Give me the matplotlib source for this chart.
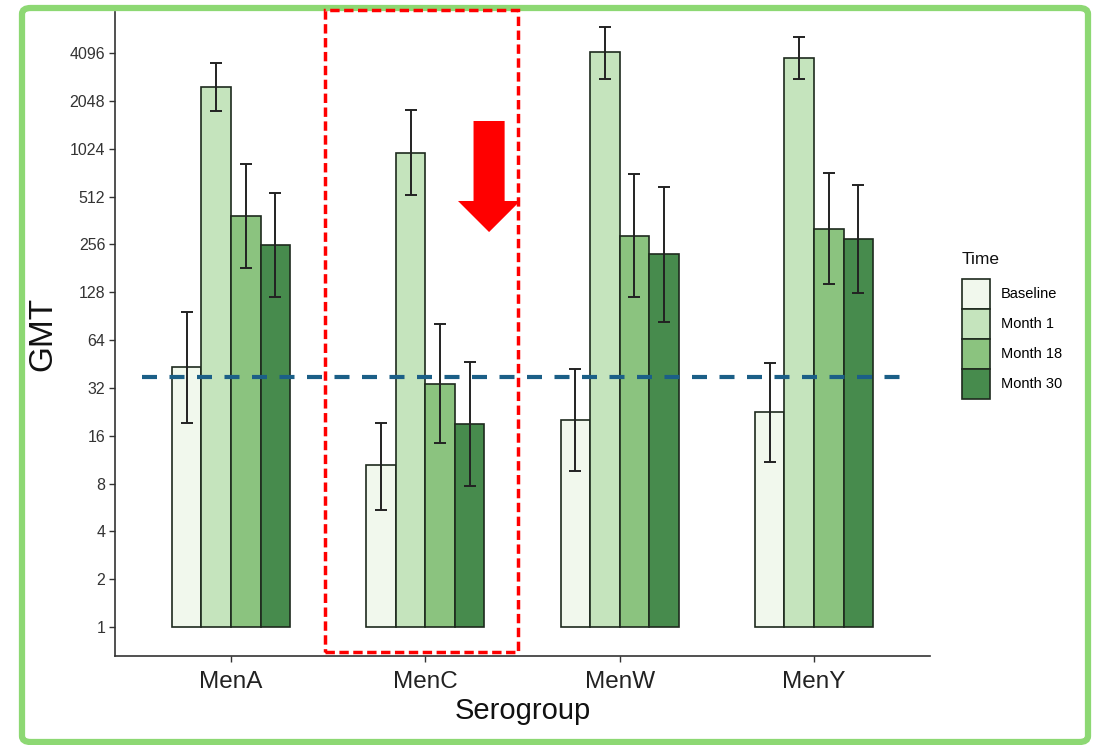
import matplotlib
matplotlib.use("Agg")
import matplotlib.pyplot as plt
import numpy as np
from matplotlib.patches import Patch, Rectangle, FancyBboxPatch, Polygon

plt.rcParams['font.family'] = ['Liberation Sans', 'DejaVu Sans']

serogroups = ["MenA", "MenC", "MenW", "MenY"]
times = ["Baseline", "Month 1", "Month 18", "Month 30"]
colors = ["#f1f8ed", "#c5e4bd", "#8bc37f", "#478b4d"]

# GMT values per time point (order: MenA, MenC, MenW, MenY)
gmt = {
    "Baseline": [43.5, 10.4, 20.1, 22.6],
    "Month 1":  [2520, 956, 4140, 3790],
    "Month 18": [388, 33.8, 290, 321],
    "Month 30": [254, 18.9, 223, 277],
}
ci_low = {
    "Baseline": [19.3, 5.46, 9.6, 10.9],
    "Month 1":  [1770, 523, 2810, 2800],
    "Month 18": [183, 14.4, 119, 144],
    "Month 30": [119, 7.7, 83.4, 127],
}
ci_high = {
    "Baseline": [96.6, 19.3, 41.9, 45.7],
    "Month 1":  [3560, 1785, 6000, 5190],
    "Month 18": [820, 80.7, 706, 718],
    "Month 30": [541, 46.3, 585, 605],
}
y_ticks = [1, 2, 4, 8, 16, 32, 64, 128, 256, 512, 1024, 2048, 4096]
threshold = 37.5
highlight_group = "MenC"

W, H = 1094, 745
fig = plt.figure(figsize=(W / 100, H / 100), dpi=100)
ax = fig.add_axes([115 / W, 1 - 656 / H, (930 - 115) / W, (656 - 12) / H])
ax.set_yscale('log', base=2)

x = np.arange(len(serogroups))
bw = 0.152
for i, t in enumerate(times):
    xi = x + (i - 1.5) * bw
    v = np.array(gmt[t])
    lo = np.array(ci_low[t])
    hi = np.array(ci_high[t])
    ax.bar(xi, v - 1, bottom=1, width=bw, color=colors[i], edgecolor='#1e2a1e',
           linewidth=1.2, zorder=2)
    ax.errorbar(xi, v, yerr=[v - lo, hi - v], fmt='none', ecolor='#222222',
                elinewidth=1.4, capsize=4, capthick=1.4, zorder=3)

ax.set_xlim(-0.597, 3.597)
ax.set_ylim(2 ** -0.606, 2 ** 12.858)
ax.set_xticks(x)
ax.set_xticklabels(serogroups, fontsize=17.5, color='#222222')
ax.set_yticks(y_ticks)
ax.set_yticklabels([str(v) for v in y_ticks], fontsize=11.5, color='#333333')
ax.yaxis.set_minor_locator(matplotlib.ticker.NullLocator())
ax.tick_params(axis='both', length=4, width=1, color='#333333')
ax.tick_params(axis='x', pad=7)
ax.tick_params(axis='y', pad=3)
for s in ['top', 'right']:
    ax.spines[s].set_visible(False)
for s in ['left', 'bottom']:
    ax.spines[s].set_color('#333333')
    ax.spines[s].set_linewidth(1.2)
ax.set_xlabel("Serogroup", fontsize=21, color='#111111', labelpad=3)
ax.set_ylabel("GMT", fontsize=24, color='#111111', labelpad=8)

# threshold line
ax.plot([-0.458, 3.5], [threshold, threshold], color='#1b5f87', lw=3,
        dashes=(3.6, 3.0), clip_on=False, zorder=4)

# highlight rectangle around MenC
hx = serogroups.index(highlight_group)
trans = matplotlib.transforms.blended_transform_factory(ax.transData, ax.transAxes)
ax.add_patch(Rectangle((hx - 0.516, 0.006), 0.993, 0.997, transform=trans,
                       fill=False, edgecolor='#ff0000', lw=2.5,
                       linestyle=(0, (2.7, 1.3)), clip_on=False, zorder=5))
# red arrow
ax_c = hx + 0.328
arrow = Polygon([[ax_c - 0.08, 1530], [ax_c + 0.08, 1530], [ax_c + 0.08, 480],
                 [ax_c + 0.16, 480], [ax_c, 306], [ax_c - 0.16, 480],
                 [ax_c - 0.08, 480]], closed=True, facecolor='#ff0000',
                edgecolor='none', zorder=6, clip_on=False)
ax.add_patch(arrow)

# legend
handles = [Patch(facecolor=c, edgecolor='#1e2a1e', linewidth=1.2) for c in colors]
fig.text(962 / W, 1 - 260 / H, "Time", fontsize=12.5, color='#111111',
         ha='left', va='center')
leg = fig.legend(handles, times, loc='upper left',
                 bbox_to_anchor=(962 / W, 1 - 279 / H), frameon=False,
                 fontsize=10.5, handlelength=1.92,
                 handleheight=2.78, labelspacing=0.0, handletextpad=0.75,
                 borderpad=0, borderaxespad=0)

# green frame around the figure
fig.patches.append(FancyBboxPatch((22 / W, 1 - 742 / H), (1088 - 22) / W, (742 - 8) / H,
                                  boxstyle="round,pad=0,rounding_size=0.008",
                                  transform=fig.transFigure, fill=False,
                                  edgecolor='#8dd873', lw=4.5, zorder=-1))

fig.savefig("out.png", dpi=100)
